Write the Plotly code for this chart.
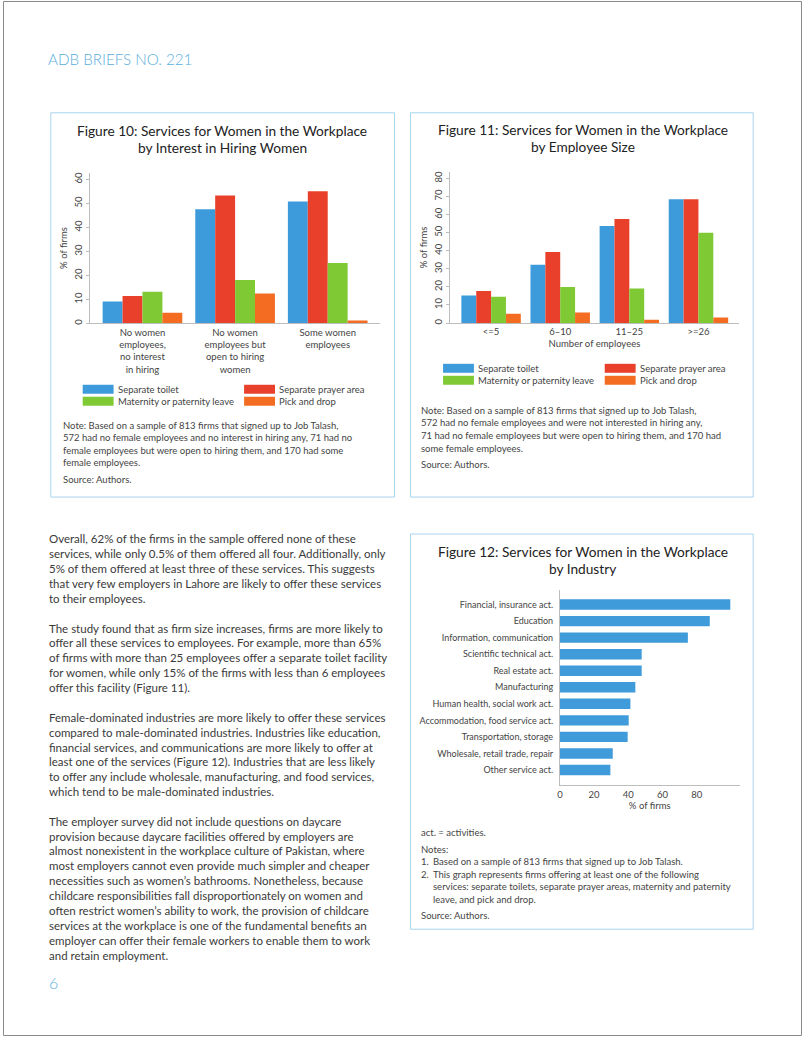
import plotly.graph_objects as go

W, H = 802, 1037
FONT = "Lato"
TXT = "#3a3a3a"
CHART_TXT = "#444444"
AXIS = "#bdbdbd"
BOX = "#a8d5ee"
ACCENT = "#5aaedc"


def px(x):
    return x / W


def py(y):
    return 1 - y / H


# ---------------- data ----------------
services = ["Separate toilet", "Separate prayer area",
            "Maternity or paternity leave", "Pick and drop"]
service_colors = ["#3d9bdb", "#e8402b", "#7ec934", "#f36c21"]

fig10_groups = ["No women<br>employees,<br>no interest<br>in hiring",
                "No women<br>employees but<br>open to hiring<br>women",
                "Some women<br>employees"]
fig10_toilet = [9.1, 47.6, 50.8]
fig10_prayer = [11.4, 53.3, 55.1]
fig10_leave = [13.2, 18.1, 25.2]
fig10_pickdrop = [4.4, 12.5, 1.2]

fig11_sizes = ["<=5", "6–10", "11–25", ">=26"]
fig11_toilet = [15.3, 32.2, 53.7, 68.4]
fig11_prayer = [17.8, 39.3, 57.5, 68.4]
fig11_leave = [14.5, 19.9, 19.1, 50.0]
fig11_pickdrop = [5.1, 5.9, 1.8, 3.1]

fig12_industries = ["Financial, insurance act.", "Education",
                    "Information, communication", "Scientific technical act.",
                    "Real estate act.", "Manufacturing",
                    "Human health, social work act.",
                    "Accommodation, food service act.",
                    "Transportation, storage", "Wholesale, retail trade, repair",
                    "Other service act."]
fig12_values = [99.6, 87.6, 74.8, 47.8, 47.8, 44.1, 41.2, 40.2, 39.6, 30.9, 29.5]

fig10_y_ticks = [0, 10, 20, 30, 40, 50, 60]
fig11_y_ticks = [0, 10, 20, 30, 40, 50, 60, 70, 80]
fig12_x_ticks = [0, 20, 40, 60, 80]

# ---------------- figure ----------------
fig = go.Figure()

fig10_series = [fig10_toilet, fig10_prayer, fig10_leave, fig10_pickdrop]
fig11_series = [fig11_toilet, fig11_prayer, fig11_leave, fig11_pickdrop]

for name, vals, col in zip(services, fig10_series, service_colors):
    fig.add_trace(go.Bar(x=fig10_groups, y=vals, name=name, marker_color=col,
                         marker_line_width=0, xaxis="x", yaxis="y",
                         showlegend=False))
for name, vals, col in zip(services, fig11_series, service_colors):
    fig.add_trace(go.Bar(x=fig11_sizes, y=vals, name=name, marker_color=col,
                         marker_line_width=0, xaxis="x2", yaxis="y2",
                         showlegend=False))
fig.add_trace(go.Bar(x=fig12_values, y=fig12_industries, orientation="h",
                     marker_color="#3f9bd9", marker_line_width=0, width=0.63,
                     xaxis="x3", yaxis="y3", showlegend=False))

tickfont = dict(family=FONT, size=9.5, color=CHART_TXT)

fig.update_layout(
    width=W, height=H, autosize=False,
    margin=dict(l=0, r=0, t=0, b=0),
    paper_bgcolor="white", plot_bgcolor="white",
    barmode="group", bargap=0.14, bargroupgap=0,
    font=dict(family=FONT, color=TXT),
    # Figure 10
    xaxis=dict(domain=[px(87), px(378)], anchor="y", type="category",
               range=[-0.57, 2.56], showline=True, linecolor=AXIS, linewidth=1,
               ticks="", showgrid=False, zeroline=False, tickfont=tickfont),
    yaxis=dict(domain=[py(323), py(172)], anchor="x", range=[0, 62.8],
               tickvals=fig10_y_ticks, showline=True, linecolor=AXIS, linewidth=1,
               ticks="outside", ticklen=3, tickcolor=AXIS, tickangle=-90,
               showgrid=False, zeroline=False, tickfont=tickfont,
               title=dict(text="% of firms", font=dict(family=FONT, size=9.5, color=CHART_TXT),
                          standoff=3)),
    # Figure 11
    xaxis2=dict(domain=[px(448.3), px(739)], anchor="y2", type="category",
                range=[-0.6, 3.59], showline=True, linecolor=AXIS, linewidth=1,
                ticks="", showgrid=False, zeroline=False, tickfont=tickfont,
                title=dict(text="Number of employees",
                           font=dict(family=FONT, size=9.5, color=CHART_TXT), standoff=3)),
    yaxis2=dict(domain=[py(322.7), py(171)], anchor="x2", range=[0, 83.7],
                tickvals=fig11_y_ticks, showline=True, linecolor=AXIS, linewidth=1,
                ticks="outside", ticklen=3, tickcolor=AXIS, tickangle=-90,
                showgrid=False, zeroline=False, tickfont=tickfont,
                title=dict(text="% of firms", font=dict(family=FONT, size=9.5, color=CHART_TXT),
                           standoff=3)),
    # Figure 12
    xaxis3=dict(domain=[px(559), px(739.3)], anchor="y3", range=[0, 105],
                tickvals=fig12_x_ticks, showline=True, linecolor=AXIS, linewidth=1,
                ticks="", showgrid=False, zeroline=False, tickfont=tickfont,
                title=dict(text="% of firms", font=dict(family=FONT, size=9.5, color=CHART_TXT),
                           standoff=3)),
    yaxis3=dict(domain=[py(785.7), py(590)], anchor="x3", type="category",
                range=[10.92, -0.89], showline=True, linecolor=AXIS, linewidth=1,
                ticks="", showgrid=False, zeroline=False, ticklabelstandoff=4,
                tickfont=dict(family=FONT, size=9, color=CHART_TXT)),
)

shapes = []
annotations = []


def box(x0, y0, x1, y1, color, width=1):
    shapes.append(dict(type="rect", xref="paper", yref="paper",
                       x0=px(x0), x1=px(x1), y0=py(y1), y1=py(y0),
                       line=dict(color=color, width=width), fillcolor="rgba(0,0,0,0)",
                       layer="below"))


def swatch(x0, y0, x1, y1, color):
    shapes.append(dict(type="rect", xref="paper", yref="paper",
                       x0=px(x0), x1=px(x1), y0=py(y1), y1=py(y0),
                       line=dict(width=0), fillcolor=color))


def txt(x, y, s, size, color=TXT, anchor="left", weight=None):
    f = dict(family=FONT, size=size, color=color)
    if weight:
        f["weight"] = weight
    annotations.append(dict(x=px(x), y=py(y), xref="paper", yref="paper",
                            text=s, showarrow=False, xanchor=anchor,
                            yanchor="middle", font=f, borderpad=0))


# page border and figure boxes
box(0.5, 0.5, 801.5, 1036.5, "#8a8a8a")
box(48, 112, 393, 497, BOX)
box(409, 112, 753, 497, BOX)
box(409, 534, 753, 930, BOX)

# header
txt(44, 58, "ADB BRIEFS NO. 221", 15.2, ACCENT, weight=300)

# titles
TITLE = "#222222"
txt(220, 130, "Figure 10: Services for Women in the Workplace", 13.7, TITLE, "center")
txt(220, 147, "by Interest in Hiring Women", 13.7, TITLE, "center")
txt(582, 129, "Figure 11: Services for Women in the Workplace", 13.7, TITLE, "center")
txt(582, 146, "by Employee Size", 13.7, TITLE, "center")
txt(582, 552, "Figure 12: Services for Women in the Workplace", 13.7, TITLE, "center")
txt(582, 569, "by Industry", 13.7, TITLE, "center")

# legends (custom two-column)
def legend(xl, xr, y1, y2):
    rows = [(y1, 0, 1), (y2, 2, 3)]
    for yc, a, b in rows:
        swatch(xl, yc - 4.5, xl + 31, yc + 4.5, service_colors[a])
        txt(xl + 34, yc, services[a], 9.5, CHART_TXT)
        swatch(xr, yc - 4.5, xr + 31, yc + 4.5, service_colors[b])
        txt(xr + 34, yc, services[b], 9.5, CHART_TXT)


legend(80, 242, 389, 401)
legend(441.7, 604, 368, 380)

# notes figure 10
notes10 = ["Note: Based on a sample of 813 firms that signed up to Job Talash,",
           "572 had no female employees and no interest in hiring any, 71 had no",
           "female employees but were open to hiring them, and 170 had some",
           "female employees."]
for i, line in enumerate(notes10):
    txt(59, 425 + i * 12.5, line, 9.5, CHART_TXT)
txt(59, 479, "Source: Authors.", 9.5, CHART_TXT)

notes11 = ["Note: Based on a sample of 813 firms that signed up to Job Talash,",
           "572 had no female employees and were not interested in hiring any,",
           "71 had no female employees but were open to hiring them, and 170 had",
           "some female employees."]
for i, line in enumerate(notes11):
    txt(418.5, 410 + i * 12.7, line, 9.5, CHART_TXT)
txt(418.5, 464.3, "Source: Authors.", 9.5, CHART_TXT)

txt(418.5, 833, "act. = activities.", 9.5, CHART_TXT)
txt(418.5, 850, "Notes:", 9.5, CHART_TXT)
txt(418.5, 862.5, "1.", 9.5, CHART_TXT)
txt(430.5, 862.5, "Based on a sample of 813 firms that signed up to Job Talash.", 9.5, CHART_TXT)
txt(418.5, 875, "2.", 9.5, CHART_TXT)
txt(430.5, 875, "This graph represents firms offering at least one of the following", 9.5, CHART_TXT)
txt(430.5, 887.7, "services: separate toilets, separate prayer areas, maternity and paternity", 9.5, CHART_TXT)
txt(430.5, 900.3, "leave, and pick and drop.", 9.5, CHART_TXT)
txt(418.5, 916.7, "Source: Authors.", 9.5, CHART_TXT)

# body text
paragraphs = [
    (539, ["Overall, 62% of the firms in the sample offered none of these",
           "services, while only 0.5% of them offered all four. Additionally, only",
           "5% of them offered at least three of these services. This suggests",
           "that very few employers in Lahore are likely to offer these services",
           "to their employees."]),
    (628.3, ["The study found that as firm size increases, firms are more likely to",
             "offer all these services to employees. For example, more than 65%",
             "of firms with more than 25 employees offer a separate toilet facility",
             "for women, while only 15% of the firms with less than 6 employees",
             "offer this facility (Figure 11)."]),
    (717.7, ["Female-dominated industries are more likely to offer these services",
             "compared to male-dominated industries. Industries like education,",
             "financial services, and communications are more likely to offer at",
             "least one of the services (Figure 12). Industries that are less likely",
             "to offer any include wholesale, manufacturing, and food services,",
             "which tend to be male-dominated industries."]),
    (821.7, ["The employer survey did not include questions on daycare",
             "provision because daycare facilities offered by employers are",
             "almost nonexistent in the workplace culture of Pakistan, where",
             "most employers cannot even provide much simpler and cheaper",
             "necessities such as women’s bathrooms. Nonetheless, because",
             "childcare responsibilities fall disproportionately on women and",
             "often restrict women’s ability to work, the provision of childcare",
             "services at the workplace is one of the fundamental benefits an",
             "employer can offer their female workers to enable them to work",
             "and retain employment."]),
]
for y0, lines in paragraphs:
    for i, line in enumerate(lines):
        txt(45, y0 + i * 14.92, line, 11.5, TXT)

txt(45, 983.5, "6", 16, ACCENT, weight=300)

fig.update_layout(shapes=shapes, annotations=annotations)

fig.write_html("out.html", config={"displayModeBar": False},
               post_script="document.body.style.margin='0';document.body.style.overflow='hidden';")
